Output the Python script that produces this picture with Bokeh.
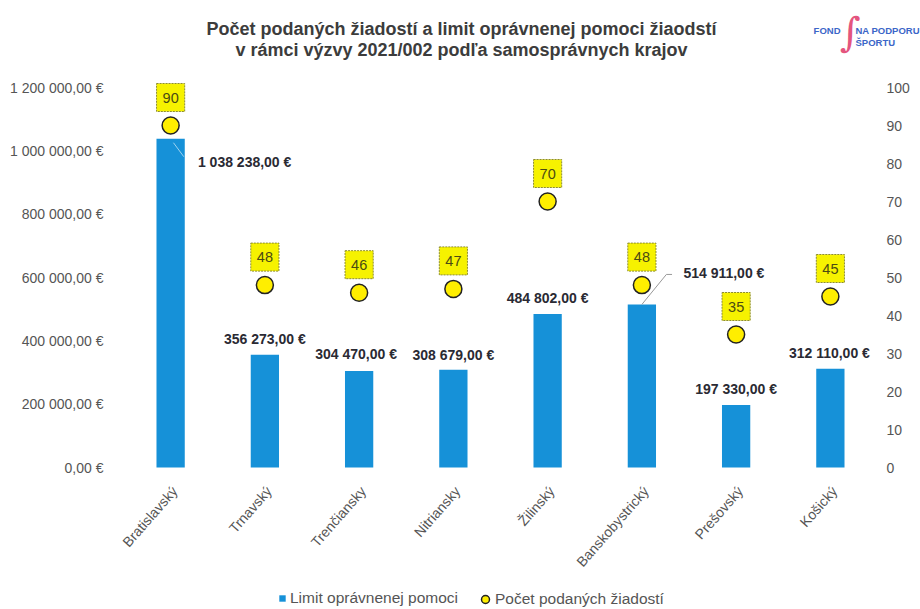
from bokeh.plotting import figure
from bokeh.models import (Range1d, LinearAxis, FixedTicker, Legend, LegendItem,
                          ColumnDataSource)
from bokeh.embed import file_html
from bokeh.resources import INLINE
from bokeh.core.properties import value

# ---------------- data ----------------
regions = ["Bratislavský", "Trnavský", "Trenčiansky", "Nitriansky",
           "Žilinský", "Banskobystrický", "Prešovský", "Košický"]
limits = [1038238, 356273, 304470, 308679, 484802, 514911, 197330, 312110]
counts = [90, 48, 46, 47, 70, 48, 35, 45]

left_ticks = [0, 200000, 400000, 600000, 800000, 1000000, 1200000]
left_tick_labels = ["0,00 €", "200 000,00 €", "400 000,00 €", "600 000,00 €",
                    "800 000,00 €", "1 000 000,00 €", "1 200 000,00 €"]
right_ticks = [0, 10, 20, 30, 40, 50, 60, 70, 80, 90, 100]

title_line1 = "Počet podaných žiadostí a limit oprávnenej pomoci žiaodstí"
title_line2 = "v rámci výzvy 2021/002 podľa samosprávnych krajov"
series_names = ["Limit oprávnenej pomoci", "Počet podaných žiadostí"]
logo_texts = ["FOND", "NA PODPORU", "ŠPORTU"]

# ---------------- layout / styles ----------------
W, H = 920, 609
FL, FT, FR, FB = 123, 87, 877, 467       # plotting area (page px)
YMAX, RMAX = 1200000, 100
n = len(regions)
CW = (FR - FL) / n                        # px per category
KY = YMAX / (FB - FT)                     # € per px
KR = RMAX / (FB - FT)                     # count per px

def X(px):  # page x -> data x (category units)
    return (px - FL) / CW

def Y(py):  # page y -> data y (€)
    return (FB - py) * KY

label_dx = [74, 0, -3, 0, 0, 82, 0, -1]          # px
label_dy = [23, -16, -17, -15, -16, -31, -16, -16]  # px, + = down

BAR = "#1691d8"
FONT = "Liberation Sans"
AXIS_TXT = "#555555"

def fmt_eur(v):
    return f"{v:,.2f}".replace(",", " ").replace(".", ",") + " €"

xpos = [i + 0.5 for i in range(n)]
src = ColumnDataSource(dict(
    x=xpos, region=regions, limit=limits, count=counts,
    limit_txt=[fmt_eur(v) for v in limits],
    count_txt=[str(c) for c in counts],
    dx=label_dx, dy=label_dy,
))

p = figure(width=W, height=H,
           x_range=Range1d(X(0), X(W)), y_range=Range1d(Y(H), Y(0)),
           x_axis_location=None, y_axis_location=None,
           output_backend="svg", toolbar_location=None,
           min_border_left=0, min_border_right=0,
           min_border_top=0, min_border_bottom=0)
p.outline_line_color = None
p.grid.visible = False

def style_axis(ax, standoff):
    ax.axis_line_color = None
    ax.major_tick_line_color = None
    ax.minor_tick_line_color = None
    ax.major_label_text_font = FONT
    ax.major_label_text_font_size = "14px"
    ax.major_label_text_color = AXIS_TXT
    ax.major_label_standoff = standoff

# left axis (fixed at the left edge of the plotting area)
la = LinearAxis(ticker=FixedTicker(ticks=left_ticks), fixed_location=X(FL))
la.major_label_overrides = {t: l for t, l in zip(left_ticks, left_tick_labels)}
style_axis(la, 14)
p.add_layout(la, "left")

# right axis
p.extra_y_ranges = {"right": Range1d(Y(H) / KY * KR, Y(0) / KY * KR)}
ra = LinearAxis(y_range_name="right", ticker=FixedTicker(ticks=right_ticks),
                fixed_location=X(FR))
style_axis(ra, 3)
p.add_layout(ra, "right")

# category labels (rotated)
p.text(x="x", y=0, text="region", source=src, angle=0.85,
       x_offset=4, y_offset=21, text_align="right", text_baseline="middle",
       text_font=value(FONT), text_font_size="14px", text_color=AXIS_TXT)

# bars
bars = p.vbar(x="x", top="limit", width=0.3, source=src,
              fill_color=BAR, line_color=None)

# leader lines
i_b, i_bb = 0, 5
p.line(x=[xpos[i_b] + 0.03, xpos[i_b] + 0.14],
       y=[limits[i_b] - 4 * KY, limits[i_b] - 18 * KY],
       line_color="#9fd3f0", line_width=1)
p.line(x=[xpos[i_bb], xpos[i_bb] + 0.26, xpos[i_bb] + 0.32],
       y=[limits[i_bb], limits[i_bb] + 30 * KY, limits[i_bb] + 30 * KY],
       line_color="#999999", line_width=1)

# value labels
p.text(x="x", y="limit", text="limit_txt", source=src,
       x_offset="dx", y_offset="dy",
       text_align="center", text_baseline="middle",
       text_font=value(FONT), text_font_style="bold",
       text_font_size="14px", text_color="#2a2a33")

# circles (count)
circles = p.scatter(x="x", y="count", y_range_name="right", source=src,
                    size=17, fill_color="#ffee00", line_color="#222222",
                    line_width=1.5)

# yellow count boxes
p.text(x="x", y="count", text="count_txt", y_range_name="right", source=src,
       y_offset=-28, text_align="center", text_baseline="middle",
       text_font=value(FONT), text_font_size="14.5px", text_color="#4a4a14",
       background_fill_color="#f6f200", border_line_color="#8c8c30",
       border_line_dash="2 1", border_line_width=1, padding=(6, 9))

# title
p.text(x=[X(461), X(461)], y=[Y(28), Y(49)], text=[title_line1, title_line2],
       text_align="center", text_baseline="middle",
       text_font=value(FONT), text_font_style="bold", text_font_size="18px",
       text_color="#3c3c3c")

# logo
p.text(x=[X(850)], y=[Y(31)], text=["∫"], text_align="center",
       text_baseline="middle", text_font=value("DejaVu Serif"),
       text_font_size="40px", text_color="#e4557e")
p.text(x=[X(840), X(855), X(855)], y=[Y(30), Y(30), Y(42)], text=logo_texts,
       text_align=["right", "left", "left"], text_baseline="middle",
       text_font=value(FONT), text_font_style="bold", text_font_size="9.5px",
       text_color="#3b66c8")

# legends (one per series so each glyph can have its own size)
common = dict(orientation="horizontal", padding=0, margin=0,
              border_line_color=None, background_fill_alpha=0,
              label_text_font=FONT, label_text_font_size="15.5px",
              label_text_color=AXIS_TXT)
leg1 = Legend(items=[LegendItem(label=series_names[0], renderers=[bars])],
              location=(278, 2), glyph_width=8, glyph_height=8,
              label_standoff=4, label_height=18, **common)
leg2 = Legend(items=[LegendItem(label=series_names[1], renderers=[circles])],
              location=(475, 0), glyph_width=20, glyph_height=20,
              label_standoff=0, **common)
p.add_layout(leg1, "center")
p.add_layout(leg2, "center")

open("out.html", "w").write(file_html(p, INLINE))
